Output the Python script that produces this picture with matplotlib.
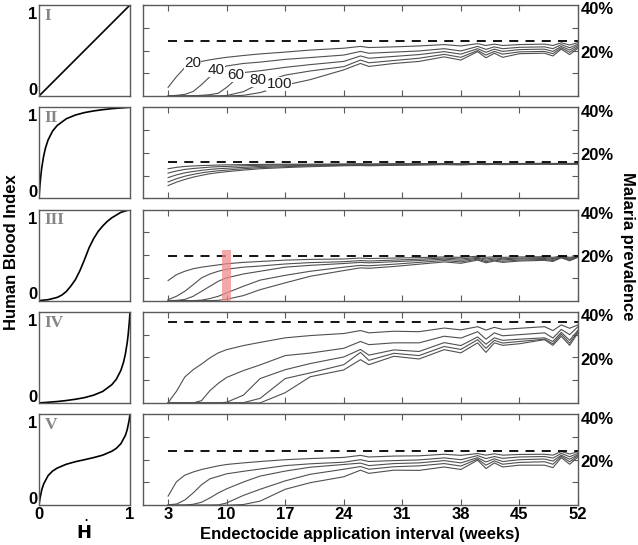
import numpy as np
import matplotlib
matplotlib.use("Agg")
import matplotlib.pyplot as plt

plt.rcParams['font.family'] = ['Liberation Sans', 'DejaVu Sans']

weeks = [3, 4, 5, 6, 7, 8, 9, 10, 12, 14, 17, 20, 24, 26, 27, 30, 33, 36, 38,
         40, 41, 42, 43, 45, 48, 49, 50, 51, 52]
curve_names = ['20', '40', '60', '80', '100']
panel_names = ['I', 'II', 'III', 'IV', 'V']

# malaria prevalence (%) for each panel, one list per curve (20..100)
prev_I = [
    [3.8, 8.5, 12.5, 14.3, 15.2, 15.9, 16.5, 17.0, 17.8, 18.5, 19.3, 20.2, 21.0, 21.8, 21.3,
     21.6, 22.0, 22.6, 22.0, 23.0, 22.2, 22.8, 22.2, 22.6, 22.8, 22.2, 23.4, 22.4, 23.5],
    [0.0, 0.3, 0.7, 2.0, 5.0, 8.5, 11.5, 13.2, 14.3, 14.9, 16.1, 16.9, 18.0, 19.6, 18.8,
     19.3, 19.8, 20.8, 19.8, 21.8, 20.5, 21.6, 20.8, 21.4, 21.6, 20.8, 22.6, 21.2, 22.8],
    [0.0, 0.0, 0.0, 0.1, 0.3, 0.6, 1.2, 3.8, 10.3, 11.1, 12.6, 13.8, 15.2, 17.6, 16.6,
     17.4, 18.2, 19.5, 18.4, 20.8, 19.2, 20.6, 19.6, 20.4, 20.6, 19.6, 21.8, 20.2, 22.2],
    [0.0, 0.0, 0.0, 0.0, 0.0, 0.0, 0.0, 0.2, 1.9, 5.6, 9.2, 11.0, 12.9, 15.8, 14.6,
     15.6, 16.6, 18.3, 17.0, 20.0, 18.0, 19.6, 18.4, 19.4, 19.6, 18.6, 21.2, 19.2, 21.6],
    [0.0, 0.0, 0.0, 0.0, 0.0, 0.0, 0.0, 0.0, 0.3, 1.5, 4.8, 7.2, 11.5, 14.3, 13.0,
     14.3, 15.2, 17.2, 15.8, 19.5, 16.8, 18.8, 17.0, 18.6, 18.8, 17.6, 20.6, 18.2, 21.0],
]
prev_II = [
    [13.0, 13.6, 14.0, 14.2, 14.4, 14.5, 14.6, 14.7, 14.8, 14.9, 15.0, 15.0, 15.1, 15.2, 15.1,
     15.2, 15.2, 15.3, 15.2, 15.3, 15.3, 15.3, 15.3, 15.3, 15.4, 15.3, 15.4, 15.3, 15.4],
    [11.1, 12.0, 12.7, 13.1, 13.4, 13.7, 13.9, 14.0, 14.3, 14.5, 14.7, 14.8, 14.9, 15.0, 14.9,
     15.0, 15.1, 15.2, 15.1, 15.2, 15.2, 15.2, 15.2, 15.2, 15.3, 15.2, 15.3, 15.2, 15.3],
    [9.1, 10.3, 11.2, 11.8, 12.3, 12.7, 13.0, 13.2, 13.6, 14.0, 14.3, 14.5, 14.7, 14.8, 14.7,
     14.8, 14.9, 15.0, 14.9, 15.1, 15.0, 15.1, 15.0, 15.1, 15.2, 15.1, 15.2, 15.1, 15.2],
    [7.2, 8.6, 9.7, 10.5, 11.2, 11.7, 12.1, 12.4, 13.0, 13.5, 13.9, 14.2, 14.5, 14.6, 14.5,
     14.6, 14.8, 14.9, 14.8, 15.0, 14.9, 15.0, 14.9, 15.0, 15.1, 15.0, 15.1, 15.0, 15.1],
    [5.6, 7.1, 8.3, 9.3, 10.1, 10.8, 11.3, 11.7, 12.4, 13.0, 13.5, 13.9, 14.3, 14.4, 14.3,
     14.5, 14.6, 14.8, 14.7, 14.9, 14.8, 14.9, 14.8, 14.9, 15.0, 14.9, 15.0, 14.9, 15.0],
]
prev_III = [
    [8.8, 11.4, 12.9, 14.0, 14.7, 15.2, 15.7, 16.2, 16.8, 17.2, 17.8, 18.1, 18.3, 18.7, 18.5,
     18.7, 18.9, 19.2, 19.0, 19.5, 19.0, 19.3, 19.0, 19.2, 19.3, 19.0, 19.6, 19.0, 19.6],
    [0.4, 1.9, 4.1, 7.0, 10.0, 11.7, 12.9, 13.8, 14.7, 15.2, 16.1, 16.7, 17.1, 17.6, 17.4,
     17.8, 18.2, 18.7, 18.3, 19.0, 18.3, 18.8, 18.4, 18.7, 18.9, 18.5, 19.4, 18.6, 19.4],
    [0.0, 0.1, 0.5, 1.9, 4.1, 6.3, 8.5, 10.0, 11.7, 12.9, 14.7, 15.5, 16.3, 16.8, 16.6,
     17.1, 17.6, 18.2, 17.7, 18.6, 17.7, 18.3, 17.9, 18.3, 18.5, 18.1, 19.2, 18.2, 19.3],
    [0.0, 0.0, 0.0, 0.0, 0.2, 0.9, 1.9, 3.4, 6.3, 9.0, 11.1, 12.9, 14.7, 15.5, 15.3,
     16.0, 16.8, 17.6, 17.0, 18.2, 17.1, 17.8, 17.3, 17.8, 18.1, 17.6, 19.0, 17.8, 19.2],
    [0.0, 0.0, 0.0, 0.0, 0.0, 0.0, 0.1, 0.6, 2.2, 4.8, 7.8, 10.7, 13.2, 14.4, 14.2,
     15.0, 16.0, 17.0, 16.4, 17.8, 16.6, 17.4, 16.8, 17.4, 17.7, 17.2, 18.8, 17.5, 19.0],
]
prev_IV = [
    [0.1, 5.1, 11.4, 14.6, 17.1, 19.8, 22.0, 23.4, 25.2, 26.6, 28.6, 29.6, 30.5, 31.8, 30.8,
     31.5, 31.3, 32.9, 32.1, 33.5, 32.0, 33.2, 32.3, 32.8, 33.5, 31.8, 34.3, 32.8, 34.3],
    [0.0, 0.0, 0.0, 0.0, 1.0, 5.4, 8.6, 11.2, 14.2, 16.7, 20.8, 21.9, 24.0, 27.0, 25.6,
     26.4, 26.4, 29.3, 28.5, 31.3, 28.0, 30.8, 29.5, 30.0, 30.8, 28.5, 32.3, 30.0, 33.5],
    [0.0, 0.0, 0.0, 0.0, 0.0, 0.0, 0.0, 0.3, 3.4, 10.7, 14.6, 17.3, 20.2, 23.5, 21.0,
     23.3, 22.6, 26.5, 25.2, 29.0, 25.8, 28.6, 27.5, 28.0, 28.6, 27.0, 31.0, 27.5, 32.0],
    [0.0, 0.0, 0.0, 0.0, 0.0, 0.0, 0.0, 0.0, 0.1, 2.0, 10.7, 13.2, 16.8, 22.2, 18.7,
     21.8, 20.8, 24.8, 23.5, 27.8, 24.0, 27.5, 26.3, 27.0, 28.0, 26.0, 30.2, 26.3, 31.4],
    [0.0, 0.0, 0.0, 0.0, 0.0, 0.0, 0.0, 0.0, 0.0, 0.0, 4.5, 11.5, 14.5, 19.0, 16.8,
     20.5, 19.3, 23.4, 22.0, 26.4, 22.2, 26.4, 25.3, 26.0, 27.8, 25.3, 29.3, 25.3, 30.8],
]
prev_V = [
    [4.0, 10.3, 13.2, 14.6, 15.7, 16.5, 17.3, 17.9, 18.6, 19.2, 20.0, 20.5, 21.0, 21.9, 21.2,
     21.6, 21.7, 22.4, 21.9, 22.7, 22.0, 22.6, 22.0, 22.3, 22.4, 22.0, 23.6, 22.5, 23.5],
    [0.2, 0.5, 2.3, 5.4, 9.0, 11.6, 12.7, 13.8, 14.9, 15.9, 17.4, 18.2, 18.9, 20.0, 19.2,
     19.6, 19.9, 20.8, 20.0, 21.8, 20.5, 21.4, 20.6, 21.2, 21.4, 20.7, 22.8, 21.3, 22.8],
    [0.0, 0.0, 0.0, 0.4, 1.3, 3.2, 5.4, 7.2, 10.2, 12.8, 15.0, 16.7, 17.9, 18.5, 17.4,
     18.3, 18.6, 19.6, 18.6, 20.9, 19.0, 20.4, 19.2, 20.0, 20.3, 19.4, 22.0, 20.2, 22.2],
    [0.0, 0.0, 0.0, 0.0, 0.0, 0.0, 0.1, 1.0, 4.3, 7.0, 10.7, 13.6, 15.8, 17.0, 15.8,
     16.9, 17.3, 18.3, 17.2, 20.3, 17.6, 19.5, 18.0, 18.8, 19.1, 18.0, 21.5, 19.1, 21.8],
    [0.0, 0.0, 0.0, 0.0, 0.0, 0.0, 0.0, 0.0, 0.3, 1.8, 7.0, 9.9, 12.5, 15.4, 14.0,
     15.4, 15.3, 16.8, 15.7, 19.8, 16.1, 18.6, 16.8, 17.6, 17.6, 16.5, 20.9, 18.0, 21.2],
]
all_prev = [prev_I, prev_II, prev_III, prev_IV, prev_V]

# baseline prevalence without endectocide (dashed line), %
baseline = [24.0, 15.8, 19.8, 35.7, 23.9]

# human blood index shapes
hbi_x = [
    [0.0, 1.0],
    [0, 0.005, 0.01, 0.02, 0.03, 0.05, 0.07, 0.1, 0.15, 0.2, 0.3, 0.4, 0.5, 0.6, 0.7, 0.8, 0.9, 1.0],
    [0, 0.1, 0.2, 0.25, 0.3, 0.35, 0.4, 0.45, 0.5, 0.55, 0.6, 0.65, 0.7, 0.75, 0.8, 0.9, 1.0],
    [0, 0.1, 0.2, 0.3, 0.4, 0.5, 0.6, 0.7, 0.8, 0.85, 0.9, 0.93, 0.95, 0.97, 0.98, 0.99, 0.995, 1.0],
    [0, 0.01, 0.03, 0.05, 0.1, 0.15, 0.2, 0.3, 0.4, 0.5, 0.6, 0.7, 0.8, 0.85, 0.9, 0.95, 0.97, 0.99, 1.0],
]
hbi_y = [
    [0.0, 1.0],
    [0, 0.075, 0.14, 0.248, 0.333, 0.459, 0.549, 0.642, 0.74, 0.80, 0.874, 0.915, 0.942, 0.96, 0.974, 0.985, 0.993, 1.0],
    [0, 0.01, 0.035, 0.06, 0.1, 0.16, 0.23, 0.33, 0.45, 0.58, 0.68, 0.76, 0.82, 0.87, 0.91, 0.97, 1.0],
    [0, 0.007, 0.015, 0.026, 0.04, 0.058, 0.085, 0.126, 0.2, 0.26, 0.358, 0.451, 0.541, 0.667, 0.752, 0.86, 0.925, 1.0],
    [0, 0.07, 0.168, 0.231, 0.325, 0.376, 0.408, 0.45, 0.478, 0.5, 0.523, 0.55, 0.593, 0.625, 0.676, 0.769, 0.833, 0.93, 1.0],
]

# curve labels in panel I (week, prevalence %)
label_pos = [(5.9, 14.5), (8.7, 11.4), (11.1, 9.2), (13.7, 7.0), (16.3, 5.3)]

# highlighted interval in panel III
hl_week = 10
hl_top = 22.4

W, H = 638, 545
fig = plt.figure(figsize=(W / 100, H / 100), dpi=100)

spine_col = '#5a5a5a'
tops = [5, 107.3, 209.6, 311.9, 414.2]
ph = 91

for i in range(5):
    bot = 1 - (tops[i] + ph) / H
    axl = fig.add_axes([39 / W, bot, 91 / W, ph / H])
    axr = fig.add_axes([143 / W, bot, 435 / W, ph / H])

    # left: HBI curve
    axl.plot(hbi_x[i], hbi_y[i], color='black', lw=1.2)
    axl.set_xlim(0, 1)
    axl.set_ylim(0, 1)
    # the 0 / 1 labels sit just inside the panel, like the original
    axl.set_yticks([0.08, 0.91])
    axl.set_yticklabels(['0', '1'], fontweight='bold', fontsize=12)
    axl.set_xticks([0, 1])
    if i == 4:
        axl.set_xticklabels(['0', '1'], fontweight='bold', fontsize=12)
    else:
        axl.set_xticklabels([])
    axl.tick_params(length=0, pad=1)
    axl.text(0.06, 0.97, panel_names[i], transform=axl.transAxes, ha='left', va='top',
             fontsize=12.5, fontweight='bold', color='#858585', family='Liberation Serif')

    # right: prevalence curves
    for c in range(5):
        axr.plot(weeks, np.array(all_prev[i][c]) / 100, color='#505050', lw=0.8)
    axr.plot([3, 52], [baseline[i] / 100] * 2, color='black', lw=1.3, dashes=(5, 4))
    if i == 2:
        axr.bar(hl_week, hl_top / 100, width=1.0, color='#f08c8c', alpha=0.75, zorder=3)
    if i == 0:
        for name, (wx, wy) in zip(curve_names, label_pos):
            axr.text(wx, wy / 100, name, ha='center', va='center', fontsize=11,
                     color='#202020', bbox=dict(facecolor='white', edgecolor='none', pad=0.2))

    axr.set_xlim(0, 52)
    axr.set_ylim(0, 0.4)
    axr.set_xticks([3, 10, 17, 24, 31, 38, 45, 52])
    if i == 4:
        axr.set_xticklabels(['3', '10', '17', '24', '31', '38', '45', '52'],
                            fontweight='bold', fontsize=12)
    else:
        axr.set_xticklabels([])
    # tick marks at 10/20/30%, labels (20%, 40%) as minor ticks nudged a little lower
    axr.set_yticks([0.1, 0.2, 0.3])
    axr.set_yticks([0.195, 0.385], minor=True)
    axr.set_yticklabels(['20%', '40%'], minor=True, fontweight='bold', fontsize=12)
    axr.tick_params(axis='y', which='minor', length=0, left=False, right=False,
                    labelleft=False, labelright=True, pad=2)
    axr.tick_params(axis='y', which='major', direction='in', left=True, right=True,
                    labelleft=False, labelright=False, length=4, color=spine_col)
    axr.tick_params(axis='x', direction='in', top=True, bottom=True, length=4,
                    color=spine_col, pad=1)

    for ax in (axl, axr):
        for s in ax.spines.values():
            s.set_color(spine_col)
            s.set_linewidth(1.0)

fig.text(12 / W, 1 - 252 / H, 'Human Blood Index', rotation=90, ha='center', va='center',
         fontsize=12, fontweight='bold')
fig.text(627 / W, 1 - 246 / H, 'Malaria prevalence', rotation=-90, ha='center', va='center',
         fontsize=12, fontweight='bold')
fig.text(360 / W, 1 - 534 / H, 'Endectocide application interval (weeks)', ha='center',
         va='center', fontsize=12, fontweight='bold')
fig.text(84 / W, 1 - 531 / H, r'$\dot{\mathbf{H}}$', ha='center', va='center', fontsize=13)

fig.savefig('out.png', dpi=100)
